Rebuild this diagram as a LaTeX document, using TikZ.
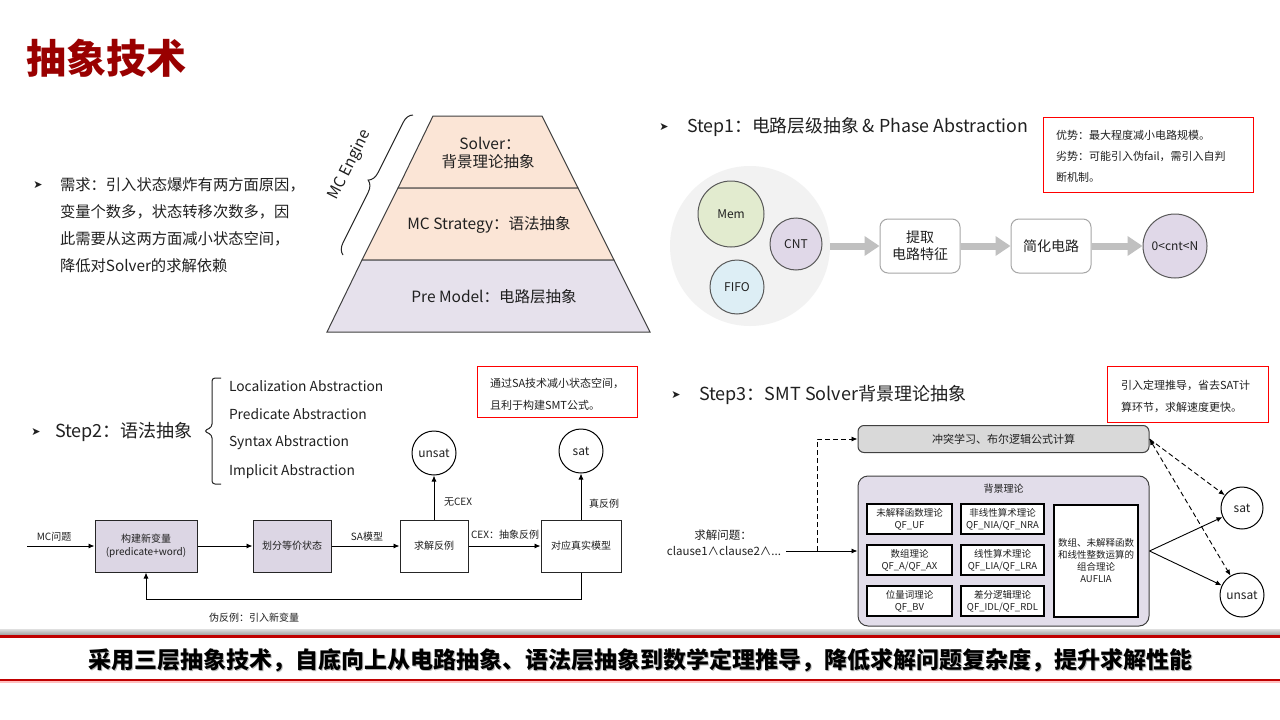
\documentclass[tikz,border=0pt]{standalone}
\usepackage{fontspec}
\setmainfont{Noto Sans CJK SC}
\newfontfamily\dejavu{DejaVu Sans}
\usetikzlibrary{arrows.meta,decorations.pathreplacing,shapes.geometric,calc}
\definecolor{titlered}{HTML}{990000}
\definecolor{peach}{HTML}{FBE5D6}
\definecolor{lav}{HTML}{E6E1EC}
\definecolor{lavbox}{HTML}{DCD6E4}
\definecolor{lavbig}{HTML}{E2DDEA}
\definecolor{pyrline}{HTML}{404040}
\definecolor{memgreen}{HTML}{E2EBCF}
\definecolor{cntlav}{HTML}{E0D8E8}
\definecolor{fifoblue}{HTML}{DDEEF5}
\definecolor{circline}{HTML}{595959}
\definecolor{bggray}{HTML}{F2F2F2}
\definecolor{fatgray}{HTML}{C0C0C0}
\definecolor{topgray}{HTML}{D9D9D9}
\definecolor{bannerred}{HTML}{C00000}
\definecolor{txt}{HTML}{202020}
\newcommand\fsz[1]{\fontsize{#1pt}{#1pt}\selectfont}
\tikzset{
  lbl/.style={inner sep=0pt, outer sep=0pt, text=txt},
  bullet/.style={inner sep=0pt, font=\dejavu\fsz{11}, text=txt},
  redbox/.style={draw=red, line width=1.3pt, anchor=north west, inner sep=0pt},
  bubble/.style={circle, draw=circline, line width=1pt, inner sep=0pt, font=\fsz{12}, text=txt},
  stepbox/.style={draw=gray!70, rounded corners=8pt, fill=white, line width=1pt, minimum height=54pt, align=center, font=\fontsize{14pt}{17pt}\selectfont, text=txt},
  fatarrow/.style={draw=fatgray, line width=7pt, -{Triangle[length=15pt,width=19pt]}},
  flowbox/.style={draw=black!85, line width=1pt, minimum height=52pt, align=center, font=\fontsize{10pt}{13pt}\selectfont, text=txt, inner sep=0pt},
  arr/.style={draw=black, line width=0.9pt, -{Latex[length=6pt,width=5pt]}},
  dasharr/.style={draw=black, line width=0.9pt, dashed, dash pattern=on 5pt off 3pt, -{Latex[length=6pt,width=5pt]}},
  endcirc/.style={circle, draw=black, line width=1pt, inner sep=0pt, fill=white, font=\fsz{12}, text=txt},
  thbox/.style={draw=black, line width=1.2pt, fill=white, align=center, font=\fontsize{9.5pt}{12pt}\selectfont, text=txt, inner sep=0pt, minimum height=30pt},
  flowlbl/.style={inner sep=0pt, font=\fsz{10}, text=txt}
}
\begin{document}
\begin{tikzpicture}[x=1pt,y=-1pt]
\useasboundingbox (0,0) rectangle (1280,720);
\fill[white] (0,0) rectangle (1280,720);

% Title
\node[lbl, anchor=west, font=\fsz{40}\bfseries, text=titlered] (title) at (26,58) {抽象技术};

% Requirement
\node[bullet] (b0) at (38,185) {➤};
\node[lbl, anchor=west, font=\fsz{15.3}] (req1) at (60,185) {需求：引入状态爆炸有两方面原因，};
\node[lbl, anchor=west, font=\fsz{15.3}] (req2) at (60,212) {变量个数多，状态转移次数多，因};
\node[lbl, anchor=west, font=\fsz{15.3}] (req3) at (60,239) {此需要从这两方面减小状态空间，};
\node[lbl, anchor=west, font=\fsz{15.3}] (req4) at (60,266) {降低对Solver的求解依赖};

% Pyramid
\filldraw[fill=peach, draw=pyrline, line width=1pt] (433,116) -- (542,116) -- (578,188) -- (398,188) -- cycle;
\filldraw[fill=peach, draw=pyrline, line width=1pt] (398,188) -- (578,188) -- (614,260) -- (362,260) -- cycle;
\filldraw[fill=lav, draw=pyrline, line width=1pt] (362,260) -- (614,260) -- (650,332) -- (327,332) -- cycle;
\node[lbl, font=\fsz{15.5}] (py1a) at (490,143) {Solver：};
\node[lbl, font=\fsz{15.5}] (py1b) at (488,162) {背景理论抽象};
\node[lbl, font=\fsz{15.5}] (py2) at (489,225) {MC Strategy：语法抽象};
\node[lbl, font=\fsz{15.5}] (py3) at (494,297) {Pre Model：电路层抽象};
\draw[decorate, decoration={brace, amplitude=11pt}, line width=1pt, draw=black!85] (343,255) -- (413,115);
\node[lbl, font=\fsz{15.5}, rotate=63] (mce) at (350,165) {MC Engine};

% Step1
\node[bullet] (b1) at (664,127) {➤};
\node[lbl, anchor=west, font=\fsz{17.8}] (s1) at (687,127) {Step1：电路层级抽象 \& Phase Abstraction};
\node[redbox, minimum width=210pt, minimum height=75pt] (adv) at (1043,117) {};
\node[lbl, anchor=west, font=\fsz{11}] (adv1) at (1056,135) {优势：最大程度减小电路规模。};
\node[lbl, anchor=west, font=\fsz{11}] (adv2) at (1056,156) {劣势：可能引入伪fail，需引入自判};
\node[lbl, anchor=west, font=\fsz{11}] (adv3) at (1056,177) {断机制。};

\node[circle, fill=bggray, minimum size=160pt, inner sep=0pt] (grp) at (750,246) {};
\node[bubble, fill=memgreen, minimum size=66pt] (mem) at (731,214) {Mem};
\node[bubble, fill=cntlav, minimum size=52pt] (cnt) at (796,244) {CNT};
\node[bubble, fill=fifoblue, minimum size=54pt] (fifo) at (737,287) {FIFO};
\node[stepbox, minimum width=80pt] (ext) at (920,246) {提取\\电路特征};
\node[stepbox, minimum width=80pt] (simp) at (1051,246) {简化电路};
\node[bubble, fill=cntlav, minimum size=64pt] (res) at (1175,246) {0<cnt<N};
\draw[fatarrow] (grp) -- (ext);
\draw[fatarrow] (ext) -- (simp);
\draw[fatarrow] (simp) -- (res);

% Step2
\node[bullet] (b2) at (36,432) {➤};
\node[lbl, anchor=west, font=\fsz{18}] (s2) at (55,432) {Step2：语法抽象};
\draw[line width=1pt, draw=black!85, rounded corners=3pt] (221,378) -- (212,378) -- (212,427) -- (204,431) -- (212,435) -- (212,484) -- (221,484);
\node[lbl, anchor=west, font=\fsz{13.8}] (it1) at (229,386) {Localization Abstraction};
\node[lbl, anchor=west, font=\fsz{13.8}] (it2) at (229,414) {Predicate Abstraction};
\node[lbl, anchor=west, font=\fsz{13.8}] (it3) at (229,443) {Syntax Abstraction};
\node[lbl, anchor=west, font=\fsz{13.8}] (it4) at (229,472) {Implicit Abstraction};
\node[redbox, minimum width=160pt, minimum height=51pt] (sabox) at (477,366) {};
\node[lbl, anchor=west, font=\fsz{11}] (sa1) at (490,383) {通过SA技术减小状态空间，};
\node[lbl, anchor=west, font=\fsz{11}] (sa2) at (490,405) {且利于构建SMT公式。};

\node[endcirc, minimum size=44pt] (unsat2) at (434,453) {unsat};
\node[endcirc, minimum size=44pt] (sat2) at (581,451) {sat};
\node[flowbox, fill=lavbox, minimum width=102pt] (fb1) at (146,546) {构建新变量\\(predicate+word)};
\node[flowbox, fill=lavbox, minimum width=78pt] (fb2) at (292,546) {划分等价状态};
\node[flowbox, fill=white, minimum width=68pt] (fb3) at (434,546) {求解反例};
\node[flowbox, fill=white, minimum width=80pt] (fb4) at (581,546) {对应真实模型};
\coordinate (mcin) at (27,546);
\draw[arr] (mcin) -- (fb1);
\node[flowlbl] (mcl) at (54,537) {MC问题};
\draw[arr] (fb1) -- (fb2);
\draw[arr] (fb2) -- (fb3);
\node[flowlbl] (sal) at (367,537) {SA模型};
\draw[arr] (fb3) -- (fb4);
\node[flowlbl] (cexl) at (505,535) {CEX：抽象反例};
\draw[arr] (fb3) -- (unsat2);
\node[flowlbl] (nocex) at (458,502) {无CEX};
\draw[arr] (fb4) -- (sat2);
\node[flowlbl] (truecex) at (604,504) {真反例};
\draw[arr] (fb4.south) -- ++(0,27) -| (fb1.south);
\node[flowlbl] (fakecex) at (254,618) {伪反例：引入新变量};

% Step3
\node[bullet] (b3) at (676,395) {➤};
\node[lbl, anchor=west, font=\fsz{18}] (s3) at (699,395) {Step3：SMT Solver背景理论抽象};
\node[redbox, minimum width=161pt, minimum height=56pt] (thbox) at (1107,366) {};
\node[lbl, anchor=west, font=\fsz{11}] (th1) at (1121,385) {引入定理推导，省去SAT计};
\node[lbl, anchor=west, font=\fsz{11}] (th2) at (1121,407) {算环节，求解速度更快。};

\node[draw=pyrline, line width=1pt, fill=topgray, rounded corners=6pt, minimum width=291pt, minimum height=27pt, inner sep=0pt, font=\fsz{11}, text=txt] (cdcl) at (1003.5,439) {冲突学习、布尔逻辑公式计算};
\node[draw=pyrline, line width=1pt, fill=lavbig, rounded corners=10pt, minimum width=291pt, minimum height=150pt, inner sep=0pt] (bg) at (1003.5,551) {};
\node[lbl, font=\fsz{10}] (bgt) at (1003.5,489) {背景理论};
\node[thbox, minimum width=85pt] (t11) at (909.5,519) {未解释函数理论\\QF\_UF};
\node[thbox, minimum width=83pt] (t12) at (1002.5,519) {非线性算术理论\\QF\_NIA/QF\_NRA};
\node[thbox, minimum width=85pt] (t21) at (909.5,560) {数组理论\\QF\_A/QF\_AX};
\node[thbox, minimum width=83pt] (t22) at (1002.5,560) {线性算术理论\\QF\_LIA/QF\_LRA};
\node[thbox, minimum width=85pt] (t31) at (909.5,601) {位量词理论\\QF\_BV};
\node[thbox, minimum width=83pt] (t32) at (1002.5,601) {差分逻辑理论\\QF\_IDL/QF\_RDL};
\node[thbox, minimum width=84pt, minimum height=112pt] (tr) at (1096,561) {数组、未解释函数\\和线性整数运算的\\组合理论\\AUFLIA};

\node[lbl, font=\fsz{11.5}] (q1) at (723,535) {求解问题：};
\node[lbl, font=\fsz{11.5}] (q2) at (724,551) {clause1∧clause2∧...};
\coordinate (qin) at (786,551);
\coordinate (jn) at (817,551);
\draw[arr] (qin) -- (bg);
\draw[dasharr] (jn) |- (cdcl.west);
\node[endcirc, minimum size=42pt] (sat3) at (1242,508) {sat};
\node[endcirc, minimum size=44pt] (unsat3) at (1242,595) {unsat};
\draw[arr] (bg.east) -- (sat3);
\draw[arr] (bg.east) -- (unsat3);
\draw[dasharr] (cdcl.east) -- (sat3);
\draw[dasharr, {Latex[length=6pt,width=5pt]}-{Latex[length=6pt,width=5pt]}] (cdcl.east) -- (unsat3);

% Bottom banner
\shade[top color=gray!25, bottom color=gray!75] (0,629) rectangle (1280,635);
\fill[bannerred] (0,635) rectangle (1280,637.5);
\node[lbl, font=\fsz{23}\bfseries, text=gray!55] (bannersh) at (641.2,661.2) {采用三层抽象技术，自底向上从电路抽象、语法层抽象到数学定理推导，降低求解问题复杂度，提升求解性能};
\node[lbl, font=\fsz{23}\bfseries, text=black] (banner) at (640,660) {采用三层抽象技术，自底向上从电路抽象、语法层抽象到数学定理推导，降低求解问题复杂度，提升求解性能};
\fill[bannerred] (0,679) rectangle (1280,681);
\fill[red!25] (0,681) rectangle (1280,682.5);
\end{tikzpicture}
\end{document}
